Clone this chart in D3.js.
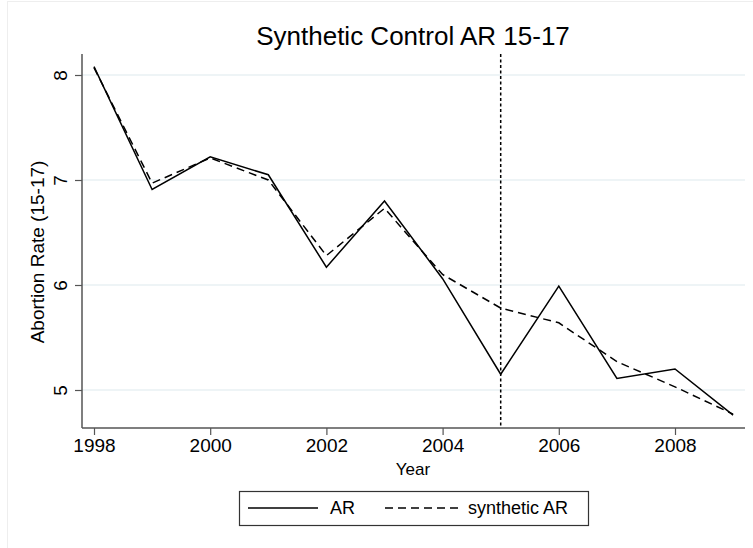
<!DOCTYPE html>
<html>
<head>
<meta charset="utf-8">
<script src="https://cdn.jsdelivr.net/npm/d3@7"></script>
<style>
  body { margin: 0; background: #fff; }
  text { font-family: "Liberation Sans", Arial, Helvetica, sans-serif; fill: #000; }
</style>
</head>
<body>
<div id="chart"></div>
<script>
var years = [1998, 1999, 2000, 2001, 2002, 2003, 2004, 2005, 2006, 2007, 2008, 2009];
var arValues = [8.08, 6.91, 7.22, 7.05, 6.17, 6.80, 6.06, 5.15, 5.99, 5.11, 5.20, 4.76];
var synthValues = [8.07, 6.97, 7.21, 7.00, 6.28, 6.73, 6.10, 5.78, 5.64, 5.27, 5.03, 4.77];
var xTicks = [1998, 2000, 2002, 2004, 2006, 2008];
var yTicks = [5, 6, 7, 8];
var treatYear = 2005;

var svgWidth = 753;
var svgHeight = 548;

var svg = d3.select("#chart")
    .append("svg")
    .attr("width", svgWidth)
    .attr("height", svgHeight);

// faint outer frame
svg.append("rect")
    .attr("x", 7.5).attr("y", 1.5)
    .attr("width", 760).attr("height", 560)
    .attr("fill", "none")
    .attr("stroke", "#eeeeee");

var plotLeft = 82, plotRight = 745, plotTop = 54, plotBottom = 428;

var xScale = d3.scaleLinear()
    .domain([1998, 2008])
    .range([94, 675]);

var yScale = d3.scaleLinear()
    .domain([5, 8])
    .range([390, 75]);

// gridlines
svg.append("g")
    .selectAll("line")
    .data(yTicks)
    .enter()
    .append("line")
    .attr("x1", plotLeft)
    .attr("x2", plotRight)
    .attr("y1", d => yScale(d))
    .attr("y2", d => yScale(d))
    .attr("stroke", "#e9f1f3")
    .attr("stroke-width", 1.5);

// axes
var bottomAxis = d3.axisBottom(xScale).tickValues(xTicks).tickFormat(d3.format("d")).tickSize(7).tickSizeOuter(0);
var leftAxis = d3.axisLeft(yScale).tickValues(yTicks).tickFormat(d3.format("d")).tickSize(7).tickSizeOuter(0);

var xg = svg.append("g")
    .attr("transform", `translate(0, ${plotBottom})`)
    .call(bottomAxis);
xg.select(".domain").remove();
xg.append("line")
    .attr("x1", plotLeft).attr("x2", plotRight)
    .attr("stroke", "#555").attr("stroke-width", 1.5);
xg.selectAll(".tick line").attr("stroke", "#555").attr("stroke-width", 1.2);
xg.selectAll(".tick text")
    .attr("font-size", 19)
    .attr("font-family", "Liberation Sans, Arial, sans-serif")
    .attr("fill", "#000")
    .attr("y", 11);

var yg = svg.append("g")
    .attr("transform", `translate(${plotLeft}, 0)`)
    .call(leftAxis);
yg.select(".domain").remove();
yg.append("line")
    .attr("y1", plotTop).attr("y2", plotBottom)
    .attr("stroke", "#555").attr("stroke-width", 1.5);
yg.selectAll(".tick line").attr("stroke", "#555").attr("stroke-width", 1.2);
yg.selectAll(".tick text")
    .attr("font-size", 19)
    .attr("font-family", "Liberation Sans, Arial, sans-serif")
    .attr("fill", "#000")
    .attr("x", null).attr("dy", null)
    .attr("text-anchor", "middle")
    .attr("transform", "translate(-15, 0) rotate(-90)");

// treatment line
svg.append("line")
    .attr("x1", xScale(treatYear)).attr("x2", xScale(treatYear))
    .attr("y1", plotTop).attr("y2", plotBottom)
    .attr("stroke", "#000")
    .attr("stroke-width", 1.5)
    .attr("stroke-dasharray", "3,2.5");

var arLine = d3.line()
    .x((d, i) => xScale(years[i]))
    .y(d => yScale(d));

svg.append("path")
    .datum(synthValues)
    .attr("d", arLine)
    .attr("fill", "none")
    .attr("stroke", "#000")
    .attr("stroke-width", 1.5)
    .attr("stroke-dasharray", "8,5");

svg.append("path")
    .datum(arValues)
    .attr("d", arLine)
    .attr("fill", "none")
    .attr("stroke", "#000")
    .attr("stroke-width", 1.5);

// title
svg.append("text")
    .attr("x", 413).attr("y", 45)
    .attr("text-anchor", "middle")
    .attr("font-size", 26)
    .text("Synthetic Control AR 15-17");

// axis titles
svg.append("text")
    .attr("x", 413).attr("y", 475)
    .attr("text-anchor", "middle")
    .attr("font-size", 17)
    .text("Year");

svg.append("text")
    .attr("transform", "translate(44, 252) rotate(-90)")
    .attr("text-anchor", "middle")
    .attr("font-size", 19)
    .text("Abortion Rate (15-17)");

// legend
var legend = svg.append("g");
legend.append("rect")
    .attr("x", 239.5).attr("y", 491.5)
    .attr("width", 349).attr("height", 34)
    .attr("fill", "#fff")
    .attr("stroke", "#333")
    .attr("stroke-width", 1.2);
legend.append("line")
    .attr("x1", 248).attr("x2", 318).attr("y1", 508).attr("y2", 508)
    .attr("stroke", "#000").attr("stroke-width", 1.5);
legend.append("text")
    .attr("x", 330).attr("y", 514)
    .attr("font-size", 18)
    .text("AR");
legend.append("line")
    .attr("x1", 385).attr("x2", 458).attr("y1", 508).attr("y2", 508)
    .attr("stroke", "#000").attr("stroke-width", 1.5)
    .attr("stroke-dasharray", "8,5");
legend.append("text")
    .attr("x", 468).attr("y", 514)
    .attr("font-size", 18)
    .text("synthetic AR");
</script>
</body>
</html>
